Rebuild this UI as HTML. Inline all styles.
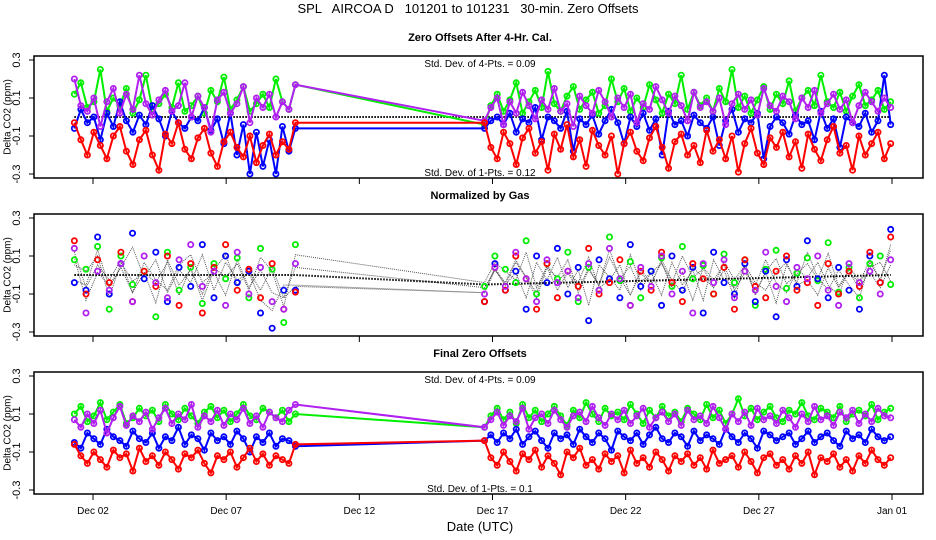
<!DOCTYPE html>
<html><head><meta charset="utf-8"><style>
body{margin:0;background:#fff}
svg{display:block;font-family:"Liberation Sans",sans-serif}
</style></head><body>
<svg id="c" width="936" height="540" xmlns="http://www.w3.org/2000/svg"></svg>
<script>
// ---- data (values in 0.01 ppm) ----
const xTickLabels = ["Dec 02","Dec 07","Dec 12","Dec 17","Dec 22","Dec 27","Jan 01"];
const xTickDays = [2,7,12,17,22,27,32];
const yTickLabels = ["0.3","0.1","-0.1","-0.3"];
const yTickValues = [0.3,0.1,-0.1,-0.3];
const seg1Range = [1.3, 9.6];
const seg2Range = [16.7, 31.95];
const stdDevTop = ["Std. Dev. of 4-Pts. = 0.09","Std. Dev. of 4-Pts. = 0.09"];
const stdDevBottom = ["Std. Dev. of 1-Pts. = 0.12","Std. Dev. of 1-Pts. = 0.1"];

const p1Green1=[12,18,5,8,25,3,10,6,15,2,9,22,4,7,12,5,18,3,6,11,2,14,8,21,4,9,16,3,7,12,5,20,8,4,17];
const p1Green2=[-4,6,12,3,9,18,2,8,14,5,24,7,3,11,16,4,9,13,2,6,20,8,15,3,10,5,17,9,2,12,7,22,4,13,6,10,3,15,8,25,5,11,2,9,16,4,12,7,19,3,10,14,6,22,8,5,13,3,11,17,6,9,14,4,8];
const p1Purple1=[20,6,3,10,-5,8,15,2,12,4,22,7,1,9,14,3,6,18,0,11,5,-8,9,13,2,7,16,-3,10,5,12,0,8,4,17];
const p1Purple2=[-2,5,10,-4,8,2,13,6,-1,9,4,15,3,7,-5,11,6,2,14,8,0,10,5,12,-3,7,4,16,9,2,11,6,-2,13,5,8,3,10,-4,7,12,4,9,1,15,6,3,11,8,-1,10,5,14,2,7,12,4,9,-3,6,13,8,3,10,5];
const p1Blue1=[-6,4,-3,0,-12,2,-5,8,-2,-8,1,-4,6,-1,-10,3,-3,-6,0,-2,5,-7,-1,-14,2,-20,-4,-30,-8,-26,-12,-30,-5,-18,-6];
const p1Blue2=[-6,-2,0,-4,2,-8,-1,-3,5,-12,0,-2,-6,3,-18,-1,-4,1,-9,-2,4,-3,-14,0,-5,2,-7,-1,-20,3,-4,-2,-10,1,-3,-6,0,-15,-2,4,-8,-1,-3,2,-22,-5,0,-3,-9,1,-4,-2,-12,3,-6,-1,-16,0,-3,-5,2,-8,-2,22,-4];
const p1Red1=[-3,-12,-20,-8,-15,-22,-10,-5,-18,-25,-12,-7,-20,-28,-9,-14,-3,-17,-22,-11,-6,-19,-26,-13,-8,-16,-21,-10,-24,-15,-9,-20,-13,-17,-3];
const p1Red2=[-3,-16,-22,-8,-14,-25,-11,-6,-19,-13,-28,-9,-17,-4,-21,-12,-26,-7,-15,-20,-10,-30,-14,-8,-18,-23,-11,-5,-16,-27,-13,-9,-20,-15,-24,-7,-18,-12,-22,-10,-29,-14,-6,-19,-25,-11,-16,-8,-21,-13,-27,-9,-17,-23,-12,-5,-19,-15,-28,-10,-20,-14,-8,-22,-14];

const p2Green1=[8,3,15,-18,10,-5,2,-22,12,-8,4,-15,6,-2,9,-12,14,3,-25,16];
const p2Green2=[-6,10,3,-4,18,-10,6,-2,12,-14,4,-8,20,-3,7,-12,2,9,-6,15,-2,5,-10,11,-4,8,-16,3,13,-7,1,9,-3,17,-9,4,-12,6,10,-5];
const p2Blue1=[-4,-8,20,-10,6,22,-2,12,-14,4,-6,16,-12,10,-4,2,-20,-28,-8,-8];
const p2Blue2=[-14,6,-8,2,-18,10,-4,14,-10,4,-24,8,-2,-12,16,-6,2,-16,10,-8,4,-20,12,-4,-10,6,-14,2,-22,8,-6,18,-2,-12,4,-8,-18,10,-4,24];
const p2Red1=[18,-10,8,-4,12,-14,2,-6,10,-16,6,-20,4,16,-8,3,-12,6,-18,-9];
const p2Red2=[-14,4,-8,10,-2,-18,6,-12,2,-6,14,-10,-4,8,-16,2,-8,12,-4,-14,6,-2,-10,4,-18,8,-6,-12,2,10,-8,-4,-16,6,-10,2,-6,12,-4,20];
const p2Purple1=[14,-20,2,-8,6,-14,10,-4,-12,8,16,-6,2,-16,12,-10,4,-14,-18,6];
const p2Purple2=[-10,4,-6,12,-2,-14,8,-4,2,-12,6,-8,14,-2,-16,4,-6,10,-10,2,-20,6,-4,8,-12,2,-8,12,-6,-14,4,-2,10,-8,-16,6,-4,2,-10,8];

const p3Green1=[10,14,6,9,16,7,11,15,5,8,13,9,12,6,15,10,7,13,9,5,11,14,8,12,6,10,15,9,7,13,11,8,12,6,10];
const p3Green2=[3,9,13,7,11,5,15,8,12,6,10,14,9,4,12,8,16,10,6,13,9,11,7,15,10,5,12,8,14,9,11,6,13,10,7,15,8,12,5,10,18,9,13,7,11,14,8,6,12,10,16,9,7,13,11,8,14,6,10,12,9,15,7,11,13];
const p3Purple1=[7,3,10,5,12,0,8,14,4,9,6,11,2,8,13,5,10,7,15,3,9,6,12,4,10,7,13,5,9,3,11,8,6,12,15];
const p3Purple2=[3,7,11,4,9,6,13,2,8,10,5,12,7,3,9,11,6,14,8,4,10,7,12,5,9,13,3,8,11,6,10,4,12,7,9,5,14,8,2,10,6,11,4,13,7,9,5,12,8,3,10,6,14,7,9,4,11,8,12,5,10,6,13,9,8];
const p3Blue1=[-5,-8,0,-3,-6,2,-2,-4,-7,1,-3,-5,0,-8,-2,-4,3,-6,-1,-3,-9,0,-4,-2,-6,1,-3,-10,-2,-5,0,-7,-3,-4,-7];
const p3Blue2=[-4,-1,-5,0,-3,2,-6,-2,1,-4,-8,0,-3,-1,-6,2,-2,-5,0,-3,-9,1,-2,-4,0,-6,-1,3,-3,-5,0,-2,-7,1,-4,-1,-3,-6,2,-2,-5,0,-3,-8,1,-1,-4,-2,0,-6,-3,1,-5,-2,0,-4,-7,1,-3,-1,-5,2,-2,-4,-2];
const p3Red1=[-6,-12,-16,-10,-14,-18,-9,-13,-11,-20,-8,-15,-12,-17,-10,-14,-19,-11,-13,-9,-16,-21,-12,-14,-10,-18,-13,-8,-15,-11,-17,-12,-14,-16,-6];
const p3Red2=[-4,-13,-17,-10,-15,-20,-11,-14,-9,-18,-12,-16,-22,-10,-13,-8,-17,-14,-19,-11,-15,-12,-21,-9,-16,-13,-18,-10,-14,-20,-12,-15,-11,-17,-13,-19,-9,-16,-14,-12,-18,-10,-15,-21,-13,-11,-17,-14,-19,-12,-16,-10,-22,-13,-15,-11,-18,-14,-20,-12,-16,-9,-14,-17,-13];

// ---- drawing ----
const NS="http://www.w3.org/2000/svg";
const svg=document.getElementById('c');
const L=34,R=923;
const xs=d=>93+(d-2)*(892-93)/30;
function el(t,a,parent){const e=document.createElementNS(NS,t);for(const k in a)e.setAttribute(k,a[k]);(parent||svg).appendChild(e);return e;}
function txt(s,x,y,size,extra){const e=el('text',Object.assign({x:x,y:y,'font-size':size,'text-anchor':'middle'},extra||{}));e.textContent=s;return e;}
function times(range,n){const o=[];for(let i=0;i<n;i++)o.push(range[0]+(range[1]-range[0])*i/(n-1));return o;}
const C={green:'#00ee00',blue:'#0000ff',red:'#ff0000',purple:'#b020f0'};

let t=txt("SPL   AIRCOA D   101201 to 101231   30-min. Zero Offsets",468,13,13,{style:'white-space:pre'});



const panels=[{top:56,name:'panel-after-cal',title:'Zero Offsets After 4-Hr. Cal.'},
 {top:214,name:'panel-normalized',title:'Normalized by Gas'},
 {top:372,name:'panel-final',title:'Final Zero Offsets'}];

function drawPanel(p,idx){
  const g=el('g',{});
  
  
  const top=p.top,bot=top+122;
  const ys=v=>top+4+(0.3-v)*(114/0.6);
  p.ys=ys;
  let t=txt(p.title,480,top-15,11,{'font-weight':'bold'});
  
  
  g.appendChild(t);
  yTickValues.forEach((v,i)=>{
    el('line',{x1:L-5,x2:L,y1:ys(v),y2:ys(v),stroke:'#000'},g);
    const lt=txt(yTickLabels[i],20,ys(v),11,{transform:`rotate(-90 20 ${ys(v)})`});
    
    
    g.appendChild(lt);
  });
  const yt=txt("Delta CO2 (ppm)",8,top+61,10,{transform:`rotate(-90 8 ${top+61})`,'dominant-baseline':'middle'});
  
  
  g.appendChild(yt);
  xTickDays.forEach(d=>el('line',{x1:xs(d),x2:xs(d),y1:bot,y2:bot+6,stroke:'#000'},g));
  return g;
}

function series(g,ys,v1,v2,color,lines,name){
  const s=el('g',{},g);
  
  
  const t1=times(seg1Range,v1.length),t2=times(seg2Range,v2.length);
  const pts=[...t1.map((t,i)=>[xs(t),ys(v1[i]/100)]),...t2.map((t,i)=>[xs(t),ys(v2[i]/100)])];
  if(lines){
    el('polyline',{points:pts.map(p=>p.join(',')).join(' '),fill:'none',stroke:color,'stroke-width':2},s);
  }
  pts.forEach(p=>el('circle',{cx:p[0],cy:p[1],r:2.6,fill:'none',stroke:color,'stroke-width':1.8},s));
}
function zeroLine(g,ys,end){
  const l=el('polyline',{points:`${xs(seg1Range[0])},${ys(0)} ${xs(seg1Range[1])},${ys(0)} ${xs(seg2Range[0])},${ys(end)} ${xs(seg2Range[1])},${ys(0)}`,fill:'none',stroke:'#000','stroke-width':2,'stroke-dasharray':'1.5 1.5'},g);
  
  
}

// panel 1
let g=drawPanel(panels[0],0);
zeroLine(g,panels[0].ys,0);
series(g,panels[0].ys,p1Green1,p1Green2,C.green,true,'series-green');
series(g,panels[0].ys,p1Blue1,p1Blue2,C.blue,true,'series-blue');
series(g,panels[0].ys,p1Purple1,p1Purple2,C.purple,true,'series-purple');
series(g,panels[0].ys,p1Red1,p1Red2,C.red,true,'series-red');

// panel 2
g=drawPanel(panels[1],1);
(function(){
  const ys=panels[1].ys;
  [[p2Red1,p2Red2],[p2Purple1,p2Purple2],[p2Green1,p2Green2],[p2Blue1,p2Blue2]].forEach(pair=>{
    const t1=times(seg1Range,pair[0].length),t2=times(seg2Range,pair[1].length);
    const pts=[...t1.map((t,i)=>[xs(t),ys(pair[0][i]/150)]),...t2.map((t,i)=>[xs(t),ys(pair[1][i]/150)])];
    const l=el('polyline',{points:pts.map(p=>p.join(',')).join(' '),fill:'none',stroke:'#555','stroke-width':1,'stroke-dasharray':'1 1'},g);
    
    
  });
})();
zeroLine(g,panels[1].ys,-0.05);
series(g,panels[1].ys,p2Green1,p2Green2,C.green,false,'series-green');
series(g,panels[1].ys,p2Blue1,p2Blue2,C.blue,false,'series-blue');
series(g,panels[1].ys,p2Red1,p2Red2,C.red,false,'series-red');
series(g,panels[1].ys,p2Purple1,p2Purple2,C.purple,false,'series-purple');

// panel 3
g=drawPanel(panels[2],2);
series(g,panels[2].ys,p3Green1,p3Green2,C.green,true,'series-green');
series(g,panels[2].ys,p3Blue1,p3Blue2,C.blue,true,'series-blue');
series(g,panels[2].ys,p3Purple1,p3Purple2,C.purple,true,'series-purple');
series(g,panels[2].ys,p3Red1,p3Red2,C.red,true,'series-red');

// frames and std-dev text
panels.forEach((p,i)=>{
  const f=el('rect',{x:L,y:p.top,width:R-L,height:122,fill:'none',stroke:'#000','stroke-width':1.5});
  
  
});
[[0,0],[2,1]].forEach(([pi,si])=>{
  const top=panels[pi].top;
  let a=txt(stdDevTop[si],480,top+11,10);
  
  
  let b=txt(stdDevBottom[si],480,top+120,10);
  
  
});

xTickLabels.forEach((s,i)=>{
  const e=txt(s,xs(xTickDays[i]),514,10);
  
  
});
const xt=txt("Date (UTC)",480,531,13);


</script>
</body></html>
